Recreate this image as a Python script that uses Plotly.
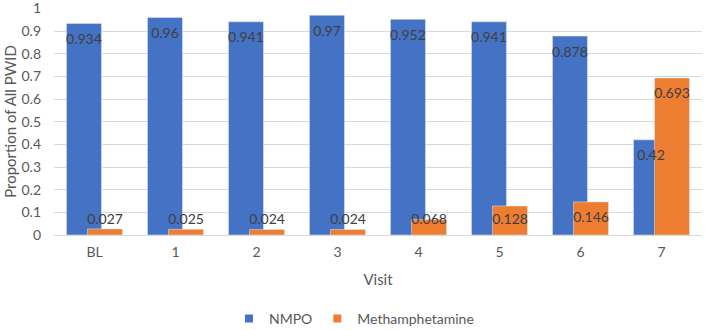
import plotly.graph_objects as go

visits = ["BL", "1", "2", "3", "4", "5", "6", "7"]
nmpo = [0.934, 0.96, 0.941, 0.97, 0.952, 0.941, 0.878, 0.42]
meth = [0.027, 0.025, 0.024, 0.024, 0.068, 0.128, 0.146, 0.693]
series_names = ["NMPO", "Methamphetamine"]
y_ticks = [0, 0.1, 0.2, 0.3, 0.4, 0.5, 0.6, 0.7, 0.8, 0.9, 1]

BLUE = "#4472C4"
ORANGE = "#ED7D31"
TXT = "#404040"
AX = "#595959"
FONT = "Lato"

idx = list(range(len(visits)))
bar_w = 0.432
shift = 0.13          # half distance between the two bar centres
lab_drop = 0.075      # label centre below bar top
lab_floor = 0.066     # lowest label centre


def lab_y(vals):
    return [max(v - lab_drop, lab_floor) for v in vals]


fig = go.Figure()
for vals, name, col, sgn in [(nmpo, series_names[0], BLUE, -1), (meth, series_names[1], ORANGE, 1)]:
    fig.add_trace(go.Bar(x=idx, y=vals, name=name, marker_color=col, showlegend=False,
                         width=bar_w, offset=sgn * shift - bar_w / 2))
for vals, sgn in [(nmpo, -1), (meth, 1)]:
    fig.add_trace(go.Scatter(x=[i + sgn * shift for i in idx], y=lab_y(vals), mode="text",
                             text=[f"{v:g}" for v in vals], showlegend=False,
                             textfont=dict(family=FONT, size=14, color=TXT), hoverinfo="skip"))
# legend entries (small squares like the reference)
for name, col in [(series_names[0], BLUE), (series_names[1], ORANGE)]:
    fig.add_trace(go.Scatter(x=[None], y=[None], mode="markers", name=name,
                             marker=dict(symbol="square", size=8, color=col)))

fig.update_layout(
    width=708, height=330,
    margin=dict(l=54, r=6, t=8, b=95, autoexpand=False),
    paper_bgcolor="white", plot_bgcolor="white",
    barmode="overlay",
    font=dict(family=FONT, size=14, color=AX),
    legend=dict(orientation="h", xref="container", yref="container",
                x=0.5, xanchor="center", y=0.034, yanchor="middle",
                font=dict(size=14, color=AX), itemwidth=30),
    xaxis=dict(range=[-0.5, len(visits) - 0.5], tickvals=idx, ticktext=visits,
               showgrid=False, showline=True, linecolor="#D9D9D9", linewidth=1,
               ticks="", zeroline=False, automargin=False, ticklabelstandoff=4,
               title=dict(text="Visit", font=dict(size=15, color=AX), standoff=15)),
    yaxis=dict(range=[0, 1.002], tickvals=y_ticks, ticktext=[f"{t:g}" for t in y_ticks],
               showgrid=True, gridcolor="#D9D9D9", gridwidth=1, zeroline=False,
               ticks="", showline=False, ticklabeloverflow="allow", automargin=False,
               ticklabelstandoff=12,
               title=dict(text="Proportion of All PWID", font=dict(size=15, color=AX),
                          standoff=1)),
)

fig.write_html("out.html", config={"displayModeBar": False},
               post_script="document.body.style.margin='0';document.body.style.padding='0';")
